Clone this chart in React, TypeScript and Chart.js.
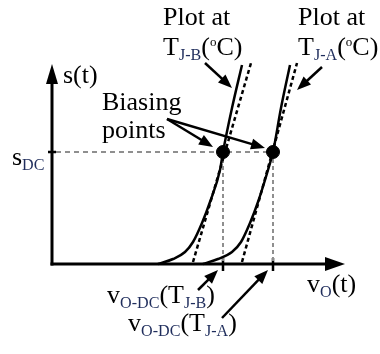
import { useEffect, useRef } from "react";
import { Chart, registerables } from "chart.js";

Chart.register(...registerables);

// Transfer characteristic s(t) versus output voltage vO(t), arbitrary units,
// origin at the crossing of the two axes.
const curveB_v = [106, 121, 133, 141, 150, 158, 168, 171, 180, 190];
const curveB_s = [0, 5, 12, 22, 41, 62, 94, 112, 156, 199];
const curveA_v = [151, 166, 180, 189, 198, 206, 216, 221, 229, 238];
const curveA_s = [0, 5, 12, 22, 41, 62, 94, 112, 156, 199];

// Linear approximations of each characteristic
const tangentB_v = [141, 199];
const tangentB_s = [2, 201];
const tangentA_v = [190, 245];
const tangentA_s = [2, 201];

// Biasing level and the two resulting DC output voltages (TJ-B, TJ-A)
const sDC = 112;
const vODC = [171, 221];

// Axis extents (arrow tips)
const vAxisEnd = 293;
const sAxisEnd = 200;

// Pointer arrows: [fromV, fromS, toV, toS]
const pointers: number[][] = [
  [153, 201, 180, 176],
  [270, 197, 245, 174],
  [115, 145, 161, 117],
  [115, 145, 213, 116],
  [146, -26, 166, -6],
  [170, -54, 216, -6],
];

type Seg = { t: string; kind?: "sub" | "sup" };
type Label = { v: number; s: number; segs: Seg[] };

const labels: Label[] = [
  { v: 111, s: 239, segs: [{ t: "Plot at" }] },
  { v: 111, s: 209, segs: [{ t: "T" }, { t: "J-B", kind: "sub" }, { t: "(" }, { t: "o", kind: "sup" }, { t: "C)" }] },
  { v: 246, s: 239, segs: [{ t: "Plot at" }] },
  { v: 246, s: 209, segs: [{ t: "T" }, { t: "J-A", kind: "sub" }, { t: "(" }, { t: "o", kind: "sup" }, { t: "C)" }] },
  { v: 50, s: 154, segs: [{ t: "Biasing" }] },
  { v: 50, s: 126, segs: [{ t: "points" }] },
  { v: 11, s: 181, segs: [{ t: "s(t)" }] },
  { v: -40, s: 99, segs: [{ t: "s" }, { t: "DC", kind: "sub" }] },
  { v: 255, s: -28, segs: [{ t: "v" }, { t: "O", kind: "sub" }, { t: "(t)" }] },
  { v: 55, s: -39, segs: [{ t: "v" }, { t: "O-DC", kind: "sub" }, { t: "(T" }, { t: "J-B", kind: "sub" }, { t: ")" }] },
  { v: 76, s: -67, segs: [{ t: "v" }, { t: "O-DC", kind: "sub" }, { t: "(T" }, { t: "J-A", kind: "sub" }, { t: ")" }] },
];

const SERIF = '"Liberation Serif", "Times New Roman", serif';
const SUB_COLOR = "#1f2d5c";
const FONT_SIZE = 26;

const pts = (xs: number[], ys: number[]) => xs.map((x, i) => ({ x, y: ys[i] }));

function arrowHead(ctx: CanvasRenderingContext2D, x0: number, y0: number, x1: number, y1: number, len: number, half: number) {
  const a = Math.atan2(y1 - y0, x1 - x0);
  ctx.beginPath();
  ctx.moveTo(x1, y1);
  ctx.lineTo(x1 - len * Math.cos(a) + half * Math.sin(a), y1 - len * Math.sin(a) - half * Math.cos(a));
  ctx.lineTo(x1 - len * Math.cos(a) - half * Math.sin(a), y1 - len * Math.sin(a) + half * Math.cos(a));
  ctx.closePath();
  ctx.fill();
}

function drawRich(ctx: CanvasRenderingContext2D, segs: Seg[], x: number, y: number) {
  let cx = x;
  for (const s of segs) {
    let fs = FONT_SIZE;
    let dy = 0;
    let color = "#000";
    if (s.kind === "sub") {
      fs = FONT_SIZE * 0.62;
      dy = FONT_SIZE * 0.2;
      color = SUB_COLOR;
    } else if (s.kind === "sup") {
      fs = FONT_SIZE * 0.5;
      dy = -FONT_SIZE * 0.36;
    }
    ctx.font = `${fs}px ${SERIF}`;
    ctx.fillStyle = color;
    ctx.fillText(s.t, cx, y + dy);
    cx += ctx.measureText(s.t).width;
  }
}

const diagramPlugin = {
  id: "diagram",
  beforeDatasetsDraw(chart: any) {
    const { ctx, scales } = chart;
    const X = (v: number) => scales.x.getPixelForValue(v);
    const Y = (s: number) => scales.y.getPixelForValue(s);
    ctx.save();
    ctx.strokeStyle = "#000";
    ctx.fillStyle = "#000";
    ctx.lineWidth = 3;
    // vertical axis
    ctx.beginPath();
    ctx.moveTo(X(0), Y(0) + 1.5);
    ctx.lineTo(X(0), Y(sAxisEnd) + 15);
    ctx.stroke();
    arrowHead(ctx, X(0), Y(0), X(0), Y(sAxisEnd), 20, 6);
    // horizontal axis
    ctx.beginPath();
    ctx.moveTo(X(0) - 1.5, Y(0));
    ctx.lineTo(X(vAxisEnd) - 15, Y(0));
    ctx.stroke();
    arrowHead(ctx, X(0), Y(0), X(vAxisEnd), Y(0), 20, 7);
    // tick marks
    ctx.lineWidth = 2.5;
    ctx.beginPath();
    ctx.moveTo(X(-4), Y(sDC));
    ctx.lineTo(X(4), Y(sDC));
    for (const v of vODC) {
      ctx.moveTo(X(v), Y(6));
      ctx.lineTo(X(v), Y(-7));
    }
    ctx.stroke();
    ctx.restore();
  },
  afterDatasetsDraw(chart: any) {
    const { ctx, scales } = chart;
    const X = (v: number) => scales.x.getPixelForValue(v);
    const Y = (s: number) => scales.y.getPixelForValue(s);
    ctx.save();
    ctx.strokeStyle = "#000";
    ctx.fillStyle = "#000";
    ctx.lineWidth = 2.5;
    for (const [v0, s0, v1, s1] of pointers) {
      const x0 = X(v0), y0 = Y(s0), x1 = X(v1), y1 = Y(s1);
      const a = Math.atan2(y1 - y0, x1 - x0);
      ctx.beginPath();
      ctx.moveTo(x0, y0);
      ctx.lineTo(x1 - 10 * Math.cos(a), y1 - 10 * Math.sin(a));
      ctx.stroke();
      arrowHead(ctx, x0, y0, x1, y1, 14, 5.5);
    }
    ctx.textBaseline = "alphabetic";
    ctx.textAlign = "left";
    for (const l of labels) drawRich(ctx, l.segs, X(l.v), Y(l.s));
    ctx.restore();
  },
};

export default function App() {
  const ref = useRef<HTMLCanvasElement | null>(null);

  useEffect(() => {
    let chart: Chart | null = null;
    let cancelled = false;
    const grey = "#8f8f8f";

    const build = () => {
      if (cancelled || !ref.current) return;
      chart = new Chart(ref.current, {
        type: "scatter",
        data: {
          datasets: [
            {
              data: [{ x: vODC[0], y: sDC }, { x: vODC[1], y: sDC }],
              pointRadius: 6.5,
              pointBackgroundColor: "#000",
              pointBorderColor: "#000",
              showLine: false,
            },
            {
              data: pts(curveB_v, curveB_s),
              showLine: true,
              borderColor: "#000",
              borderWidth: 2.5,
              pointRadius: 0,
              cubicInterpolationMode: "monotone",
            },
            {
              data: pts(curveA_v, curveA_s),
              showLine: true,
              borderColor: "#000",
              borderWidth: 2.5,
              pointRadius: 0,
              cubicInterpolationMode: "monotone",
            },
            {
              data: pts(tangentB_v, tangentB_s),
              showLine: true,
              borderColor: "#000",
              borderWidth: 2.5,
              borderDash: [4, 3],
              pointRadius: 0,
            },
            {
              data: pts(tangentA_v, tangentA_s),
              showLine: true,
              borderColor: "#000",
              borderWidth: 2.5,
              borderDash: [4, 3],
              pointRadius: 0,
            },
            {
              data: [{ x: 4, y: sDC }, { x: vODC[1], y: sDC }],
              showLine: true,
              borderColor: grey,
              borderWidth: 2,
              borderDash: [5, 4],
              pointRadius: 0,
            },
            {
              data: [{ x: vODC[0], y: sDC }, { x: vODC[0], y: 0 }],
              showLine: true,
              borderColor: grey,
              borderWidth: 2,
              borderDash: [4, 3],
              pointRadius: 0,
            },
            {
              data: [{ x: vODC[1], y: sDC }, { x: vODC[1], y: 0 }],
              showLine: true,
              borderColor: grey,
              borderWidth: 2,
              borderDash: [4, 3],
              pointRadius: 0,
            },
          ],
        },
        options: {
          animation: false,
          responsive: false,
          devicePixelRatio: 1,
          layout: { padding: 0, autoPadding: false },
          plugins: { legend: { display: false }, tooltip: { enabled: false } },
          events: [],
          scales: {
            x: { type: "linear", min: -52, max: 328, display: false },
            y: { type: "linear", min: -90, max: 264, display: false },
          },
        },
        plugins: [diagramPlugin],
      });
    };

    const fonts = (document as any).fonts;
    if (fonts && fonts.load) {
      Promise.all([
        fonts.load(`${FONT_SIZE}px "Liberation Serif"`),
        fonts.load(`${Math.round(FONT_SIZE * 0.62)}px "Liberation Serif"`),
      ]).then(build, build);
    } else {
      build();
    }

    return () => {
      cancelled = true;
      if (chart) chart.destroy();
    };
  }, []);

  return (
    <div style={{ position: "fixed", left: 0, top: 0, width: 380, height: 354, background: "#fff" }}>
      <canvas ref={ref} width={380} height={354} />
    </div>
  );
}
